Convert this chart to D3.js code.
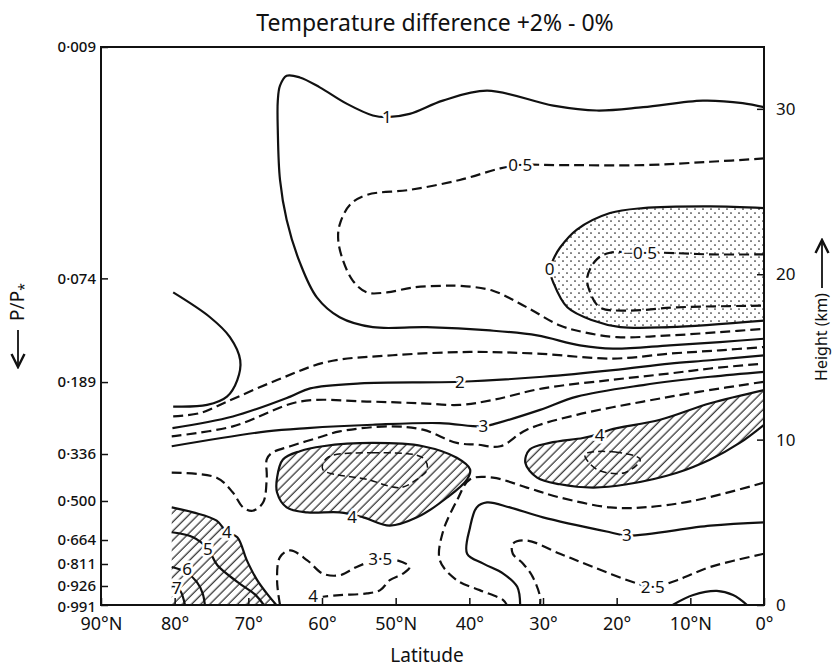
<!DOCTYPE html>
<html>
<head>
<meta charset="utf-8">
<script src="https://cdn.jsdelivr.net/npm/d3@7"></script>
<style>
    body { margin: 0; background: #fff; }
    text { font-family: "Noto Sans", "DejaVu Sans", sans-serif; fill: #111; }
</style>
</head>
<body>
<script>
// ---------- data: latitude (deg N) and height (km) ----------//
var latTicks = [90, 80, 70, 60, 50, 40, 30, 20, 10, 0];
var latLabels = ["90°N", "80°", "70°", "60°", "50°N", "40°", "30°", "20°", "10°N", "0°"];
var heightTicks = [0, 10, 20, 30];
var pressureLabels = ["0·009", "0·074", "0·189", "0·336", "0·500", "0·664", "0·811", "0·926", "0·991"];
var pressureHeights = [33.74, 19.75, 13.48, 9.13, 6.29, 3.93, 2.48, 1.15, 0];

// contours as [latitude, height]
var cont1 = [[0, 30.1], [2.9, 30.35], [8.3, 30.5], [16.4, 30.1], [22.7, 29.9], [28.6, 30.2], [37.6, 31.1],
    [43.6, 30.5], [48.1, 29.7], [51.2, 29.5], [53.1, 29.6], [56.6, 30.3], [60.3, 31.3], [63, 31.9], [64.8, 32.0],
    [65.7, 31.4], [66, 30.5], [66, 28.7], [65.7, 25.7], [64.8, 23.3], [63, 20.7], [60.7, 18.6], [57.6, 17.4],
    [53.1, 16.8], [45.8, 16.8], [37.2, 16.6], [30.8, 16.3], [25, 15.7], [20.5, 15.5], [12.8, 15.7], [6, 15.9], [0, 16.1]];
var cont05 = [[0, 27.0], [7.3, 26.8], [16.4, 26.6], [27.7, 26.6], [33.1, 26.6], [35.8, 26.4], [41.3, 25.7],
    [48.1, 25.1], [53.9, 24.8], [56.2, 24.2], [57.6, 23.0], [57.8, 22.1], [57.2, 20.9], [55.8, 19.6], [53.9, 18.9],
    [51.2, 18.9], [47.6, 19.2], [43.6, 19.3], [41.3, 19.3], [36.8, 19.0], [32.2, 18.0], [27.7, 16.9], [24.5, 16.5],
    [20, 16.2], [12.8, 16.3], [6, 16.5], [0, 16.7]];
var cont0 = [[0, 24.0], [7.3, 24.1], [16.4, 24.0], [20.9, 23.7], [25.4, 22.7], [27.7, 21.6], [28.6, 20.9],
    [29.1, 20.3], [28.6, 19.5], [26.7, 18.0], [23.2, 17.2], [19.5, 16.8], [12.8, 16.8], [0, 17.2]];
var contNeg05 = [[0, 21.2], [7.3, 21.2], [13.7, 21.3], [16.8, 21.3], [20.9, 21.3], [22.7, 20.9], [24.0, 19.8],
    [23.6, 18.9], [22.3, 18.0], [18.6, 17.8], [11.8, 18.0], [0, 18.1]];
var contArc = [[80.2, 18.9], [75.2, 17.4], [72.5, 16.2], [71.1, 14.8], [71.5, 13.6], [72.9, 12.6], [75.6, 12.1], [80.2, 12.0]];
var cont15 = [[80.2, 11.4], [76.6, 11.6], [72.9, 12.3], [66.1, 13.6], [59.3, 14.7], [50.4, 15.1], [39.9, 15.3],
    [30.8, 15.2], [20.5, 14.9], [12.8, 15.2], [6, 15.4], [0, 15.6]];
var cont2 = [[80.3, 10.7], [72.1, 11.4], [64.3, 12.6], [61.6, 13.1], [54.8, 13.4], [41.3, 13.5], [30, 13.8],
    [20.5, 14.2], [12.8, 14.6], [7.3, 14.8], [0, 15.1]];
var cont25 = [[80.4, 10.2], [72.1, 10.8], [63, 12.3], [53.9, 12.3], [46.7, 12.2], [41.3, 12.1], [36.8, 12.4],
    [30, 13.1], [20.9, 13.6], [12.8, 14.0], [7.3, 14.3], [0, 14.6]];
var cont3 = [[80.4, 9.6], [67.5, 10.5], [62, 10.7], [53.1, 10.9], [44, 11.0], [38.1, 10.8], [36.2, 11.0],
    [30.4, 11.8], [25.4, 12.6], [16.4, 13.3], [7.3, 13.8], [0, 14.1]];
var cont35 = [[80.4, 8.0], [74.3, 7.7], [72.1, 6.8], [70.7, 5.9], [69.4, 5.7], [68.0, 6.2], [67.5, 7.7], [67.5, 8.8],
    [66.8, 9.2], [64.3, 9.6], [59.9, 10.2], [57.6, 10.5], [50.8, 10.8], [46.3, 10.6], [41.7, 9.8], [39.0, 9.7],
    [35.8, 9.6], [32.2, 10.6], [25.4, 11.5], [16.4, 12.3], [8.7, 12.9], [0, 13.5]];
var blob4 = [[66.1, 7.7], [65.3, 8.8], [63, 9.3], [59.9, 9.6], [53.1, 9.8], [46.3, 9.6], [41.7, 8.9], [39.9, 8.2],
    [40.3, 7.6], [43, 6.5], [47.1, 5.3], [50.8, 4.8], [54.4, 5.3], [57.6, 5.6], [62, 5.6], [64.8, 5.9], [66.1, 6.8]];
var blob45 = [[59.3, 8.9], [53.1, 9.2], [46.3, 8.9], [45.7, 8.2], [47.1, 7.6], [49.4, 7.1], [53.9, 7.6], [59.9, 8.2]];
var tongue4 = [[0, 13.0], [7.3, 12.2], [14.1, 11.2], [20.9, 10.6], [22.7, 10.3], [24.6, 10.1], [29.1, 9.8],
    [31.8, 9.4], [32.4, 8.6], [30.8, 7.7], [27.7, 7.3], [23.2, 7.1], [18.6, 7.3], [11.8, 8.0], [7.3, 8.8], [3.3, 9.8], [0, 10.9]];
var tongue45 = [[24.3, 9.1], [20.2, 9.25], [16.8, 8.8], [18.9, 8.0], [22.7, 8.2]];
var cont35b = [[0, 7.4], [9.6, 6.3], [16.4, 5.9], [20.9, 5.9], [27.7, 6.5], [32.2, 7.1], [36.8, 7.7], [39.9, 7.6],
    [41.7, 6.3], [43.6, 4.4], [44, 2.7], [41.7, 1.5], [38.6, 0.9], [35.4, 0.3], [34.9, 0]];
var cont3b = [[0, 5.0], [7.3, 4.8], [18.6, 4.2], [20.9, 4.4], [30, 5.3], [34.5, 5.9], [37.6, 6.2], [39, 5.9],
    [39.9, 4.7], [40.3, 3.1], [38.1, 2.5], [35.4, 1.9], [33.5, 1.1], [33.1, 0]];
var cont25b = [[0, 3.1], [7.3, 2.3], [11.8, 1.5], [15.1, 1.1], [17.2, 1.3], [23.2, 2.3], [27.7, 3.1], [32.2, 3.9],
    [34.1, 3.7], [34.1, 3.1], [32.7, 2.5], [31.4, 1.7], [30.4, 0.5], [30.4, 0]];
var contDome = [[12.4, 0], [9.6, 0.6], [6.4, 0.85], [4.2, 0.6], [2.3, 0]];
var cont35c = [[65.7, 0], [66.1, 1.5], [65.7, 2.9], [64.3, 3.3], [62, 2.7], [59.9, 1.9], [57.6, 1.8], [55.3, 2.3],
    [52.1, 2.8], [49.8, 2.7], [48.1, 2.3], [49, 1.9], [50.8, 1.5], [52.1, 0.9], [53.9, 0.7], [57.6, 0.6], [59.9, 0.5]];
var polar4 = [[80.4, 5.9], [77.5, 5.6], [74.3, 5.1], [72.9, 4.4], [71.5, 4.1], [70.2, 2.7], [68.8, 1.5], [67.5, 0.7], [66.2, 0]];
var polar5 = [[80.4, 4.4], [77.5, 4.1], [75.5, 3.4], [74.2, 2.4], [71.5, 1.4], [69, 0.6], [67.9, 0]];
var polar6 = [[80.4, 2.3], [78.5, 2.0], [77, 1.4], [76.2, 0.7], [75.9, 0]];
var polar7 = [[80.4, 1.2], [79.3, 0.9], [78.6, 0]];

// contour labels: text, latitude, height
var labelText = ["1", "0·5", "0", "−0·5", "2", "3", "4", "4", "3·5", "3", "2·5", "4", "5", "6", "7", "4"];
var labelLat = [51.2, 33.1, 29.1, 16.8, 41.3, 38.1, 22.3, 55.9, 52.1, 18.6, 15.1, 72.9, 75.5, 78.3, 79.7, 61.2];
var labelHeight = [29.5, 26.6, 20.3, 21.3, 13.5, 10.8, 10.3, 5.3, 2.8, 4.2, 1.1, 4.4, 3.4, 2.2, 1.0, 0.55];

//---------setup plot-----------------------//
var margin = {top: 47, right: 68, bottom: 62, left: 101},
    width = 832 - margin.left - margin.right,
    height = 667 - margin.top - margin.bottom;

var x = d3.scaleLinear().domain([90, 0]).range([0, width]);
var y = d3.scaleLinear().domain([0, 33.74]).range([height, 0]);

var svg = d3.select("body").append("svg")
    .attr("width", 832)
    .attr("height", 667);

var defs = svg.append("defs");

// hatching for regions above 4 K
defs.append("pattern")
    .attr("id", "hatch")
    .attr("patternUnits", "userSpaceOnUse")
    .attr("width", 6.5).attr("height", 6.5)
    .attr("patternTransform", "rotate(45)")
    .append("line")
    .attr("x1", 3).attr("y1", 0).attr("x2", 3).attr("y2", 6.5)
    .attr("stroke", "#111").attr("stroke-width", 1.1);

// stipple for negative region
var dots = defs.append("pattern")
    .attr("id", "dots")
    .attr("patternUnits", "userSpaceOnUse")
    .attr("width", 8).attr("height", 8);
dots.append("circle").attr("cx", 2).attr("cy", 2).attr("r", 0.85).attr("fill", "#222");
dots.append("circle").attr("cx", 6).attr("cy", 6).attr("r", 0.85).attr("fill", "#222");

defs.append("clipPath").attr("id", "plotclip")
    .append("rect").attr("width", width).attr("height", height);

var g = svg.append("g")
    .attr("transform", "translate(" + margin.left + "," + margin.top + ")");

var plot = g.append("g").attr("clip-path", "url(#plotclip)");

var line = d3.line()
    .x(function (d) { return x(d[0]); })
    .y(function (d) { return y(d[1]); })
    .curve(d3.curveCatmullRom.alpha(0.5));

var loop = d3.line()
    .x(function (d) { return x(d[0]); })
    .y(function (d) { return y(d[1]); })
    .curve(d3.curveCatmullRomClosed.alpha(0.5));

//-------------shaded areas----------//
plot.append("path").attr("d", line(cont0) + "Z").attr("fill", "url(#dots)");
plot.append("path").attr("d", line(tongue4) + "Z").attr("fill", "url(#hatch)");
plot.append("path").attr("d", loop(blob4)).attr("fill", "url(#hatch)");
plot.append("path")
    .attr("d", line(polar4) + "L" + x(polar4[0][0]) + "," + y(0) + "Z")
    .attr("fill", "url(#hatch)");

//-------------contour lines----------//
var solid = [cont1, cont0, contArc, cont2, cont3, cont3b, contDome, tongue4, polar4, polar5, polar6, polar7];
var dashed = [cont05, contNeg05, cont15, cont25, cont35, cont35b, cont25b, cont35c];

solid.forEach(function (c) {
    plot.append("path").attr("d", line(c))
        .attr("fill", "none").attr("stroke", "#111").attr("stroke-width", 2.2);
});
dashed.forEach(function (c) {
    plot.append("path").attr("d", line(c))
        .attr("fill", "none").attr("stroke", "#111").attr("stroke-width", 2.2)
        .attr("stroke-dasharray", "10,5");
});
[blob4].forEach(function (c) {
    plot.append("path").attr("d", loop(c))
        .attr("fill", "none").attr("stroke", "#111").attr("stroke-width", 2.2);
});
[blob45, tongue45].forEach(function (c) {
    plot.append("path").attr("d", loop(c))
        .attr("fill", "none").attr("stroke", "#111").attr("stroke-width", 1.5)
        .attr("stroke-dasharray", "7,4");
});

// contour labels with a white halo to break the line
labelText.forEach(function (t, i) {
    g.append("text")
        .attr("x", x(labelLat[i]))
        .attr("y", y(labelHeight[i]))
        .attr("dy", "0.35em")
        .attr("text-anchor", "middle")
        .style("font-size", "17px")
        .style("paint-order", "stroke")
        .style("stroke", "#fff")
        .style("stroke-width", 5)
        .text(t);
});

//-------------frame and axes----------//
g.append("rect")
    .attr("width", width).attr("height", height)
    .attr("fill", "none").attr("stroke", "#111").attr("stroke-width", 2);

var leftAxis = g.append("g")
    .call(d3.axisLeft(y)
        .tickValues(pressureHeights)
        .tickFormat(function (d, i) { return pressureLabels[i]; })
        .tickSize(-7).tickPadding(5));

var rightAxis = g.append("g")
    .attr("transform", "translate(" + width + ",0)")
    .call(d3.axisRight(y).tickValues(heightTicks).tickSize(-7).tickPadding(12));

var bottomAxis = g.append("g")
    .attr("transform", "translate(0," + height + ")")
    .call(d3.axisBottom(x)
        .tickValues(latTicks)
        .tickFormat(function (d, i) { return latLabels[i]; })
        .tickSize(-7).tickPadding(12));

[leftAxis, rightAxis, bottomAxis].forEach(function (a) {
    a.select(".domain").remove();
    a.selectAll("line").attr("stroke", "#111").attr("stroke-width", 1.5);
    a.selectAll("text").style("font-size", "15px").attr("fill", "#111")
        .style("font-weight", "500")
        .style("font-family", "\"Noto Sans\", sans-serif");
});
rightAxis.selectAll("text").style("font-size", "17px").style("font-weight", "400");
bottomAxis.selectAll("text").style("font-size", "18px").style("font-weight", "400");
// last pressure label sits at the corner, a touch lower
leftAxis.selectAll(".tick text").filter(function (d) { return d === 0; }).attr("dy", "0.45em");

// axis titles
svg.append("text")
    .attr("x", 435).attr("y", 31)
    .attr("text-anchor", "middle")
    .style("font-size", "23px")
    .text("Temperature difference +2% - 0%");

svg.append("text")
    .attr("x", 427).attr("y", 662)
    .attr("text-anchor", "middle")
    .style("font-size", "19px")
    .text("Latitude");

// arrow heads
defs.append("marker")
    .attr("id", "arrow")
    .attr("viewBox", "0 0 10 10")
    .attr("refX", 9).attr("refY", 5)
    .attr("markerWidth", 9).attr("markerHeight", 9)
    .attr("orient", "auto")
    .append("path")
    .attr("d", "M1,1L9,5L1,9")
    .attr("fill", "none").attr("stroke", "#111").attr("stroke-width", 1.5);

var pLabel = svg.append("text")
    .attr("transform", "translate(24,302) rotate(-90)")
    .attr("text-anchor", "middle")
    .style("font-size", "19px");
pLabel.append("tspan").text("P/P");
pLabel.append("tspan").attr("dy", 5).style("font-size", "14px").text("*");

svg.append("line")
    .attr("x1", 18).attr("y1", 330).attr("x2", 18).attr("y2", 367)
    .attr("stroke", "#111").attr("stroke-width", 1.8)
    .attr("marker-end", "url(#arrow)");

svg.append("text")
    .attr("transform", "translate(827,337) rotate(-90)")
    .attr("text-anchor", "middle")
    .style("font-size", "16px")
    .text("Height (km)");

svg.append("line")
    .attr("x1", 822).attr("y1", 288).attr("x2", 822).attr("y2", 240)
    .attr("stroke", "#111").attr("stroke-width", 1.8)
    .attr("marker-end", "url(#arrow)");
</script>
</body>
</html>
